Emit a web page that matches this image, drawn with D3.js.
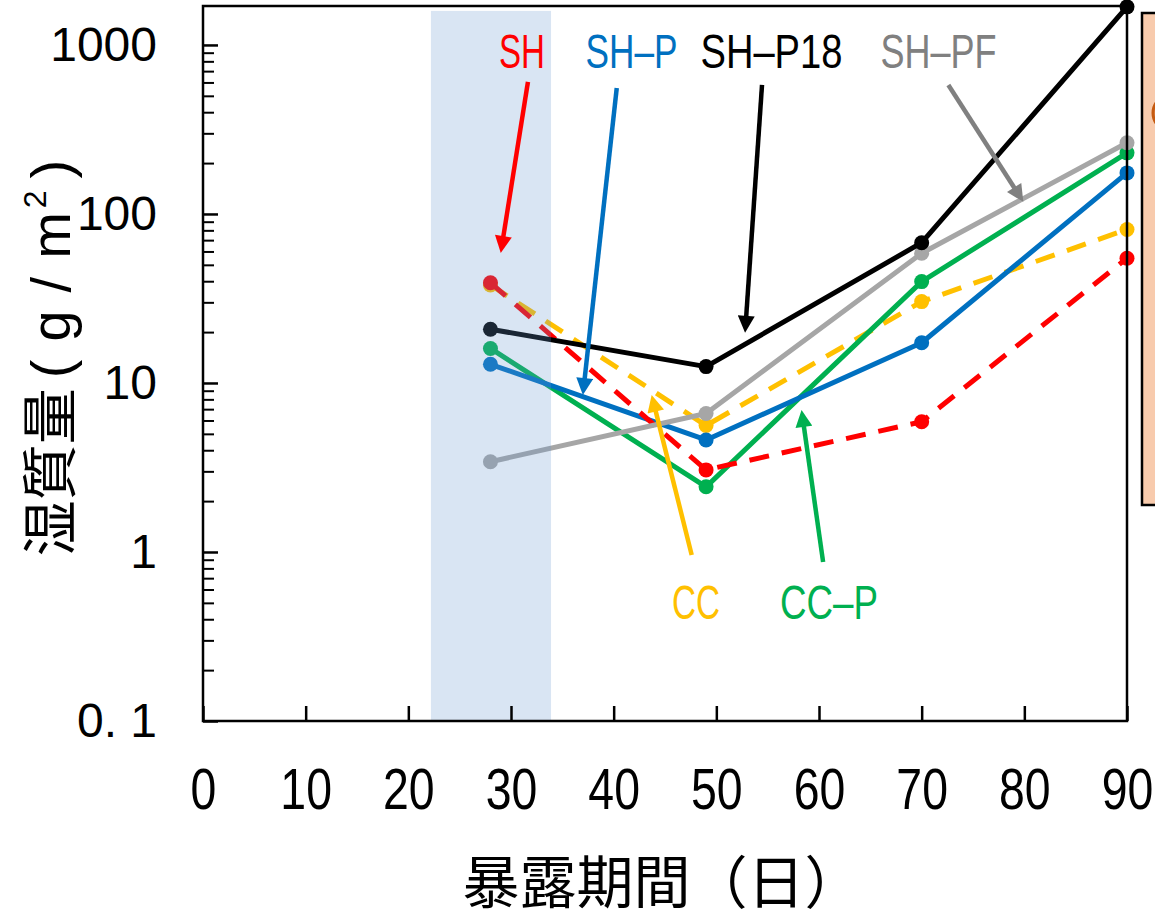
<!DOCTYPE html>
<html>
<head>
<meta charset="utf-8">
<script src="https://cdn.jsdelivr.net/npm/d3@7"></script>
<style>
  html, body { margin: 0; padding: 0; background: #fff; }
  svg { display: block; }
</style>
</head>
<body>
<svg id="chart" width="1155" height="918"></svg>
<script>
// Exposure time (days) at which the wet mass was measured
const days = [28, 49, 70, 90];

// Wet mass per specimen type (g/m2)
const seriesNames = ["CC", "CC-P", "SH-P", "SH", "SH-PF", "SH-P18"];
const ccValues    = [38.0, 5.6, 30.3, 81];
const ccpValues   = [16.0, 2.43, 39.8, 230];
const shpValues   = [12.9, 4.6, 17.3, 175];
const shValues    = [39.2, 3.06, 5.9, 54.7];
const shpfValues  = [3.42, 6.6, 58.5, 264];
const shp18Values = [20.8, 12.5, 67.6, 1680];

// Axis ticks
const xTickValues = [0, 10, 20, 30, 40, 50, 60, 70, 80, 90];
const yTickValues = [0.1, 1, 10, 100, 1000];
const yTickLabels = ["0. 1", "1", "10", "100", "1000"];

// Highlighted exposure window (days)
const bandDays = [22.2, 33.9];

// Annotation labels: name, label position (day, g/m2), arrow tail and tip (day, g/m2)
const labelNames = ["SH", "SH-P", "SH-P18", "SH-PF", "CC", "CC-P"];
const labelAt = [[31.07, 730], [41.74, 730], [55.37, 730], [71.64, 730], [48.02, 0.401], [60.97, 0.401]];
const arrowTail = [[31.65, 604], [40.3, 557], [54.45, 580], [72.6, 580], [47.6, 0.96], [60.4, 0.873]];
const arrowTip  = [[29.0, 58.8], [37.0, 8.49], [52.8, 19.8], [79.9, 118], [43.7, 8.49], [58.3, 6.92]];

const seriesValues = {
  "CC": ccValues, "CC-P": ccpValues, "SH-P": shpValues,
  "SH": shValues, "SH-PF": shpfValues, "SH-P18": shp18Values
};

const style = {
  "CC":     { color: "#FFC000", dash: "20,13", text: "#FFC000", arrow: "#FFC000" },
  "CC-P":   { color: "#00B050", dash: null,    text: "#00B050", arrow: "#00B050" },
  "SH-P":   { color: "#0070C0", dash: null,    text: "#0070C0", arrow: "#0070C0" },
  "SH":     { color: "#FF0000", dash: "20,13", text: "#FF0000", arrow: "#FF0000" },
  "SH-PF":  { color: "#A6A6A6", dash: null,    text: "#808080", arrow: "#808080" },
  "SH-P18": { color: "#000000", dash: null,    text: "#000000", arrow: "#000000" }
};
const labelWidths = { "SH": 46, "SH-P": 92, "SH-P18": 142, "SH-PF": 116, "CC": 48, "CC-P": 98 };

const svg = d3.select("#chart");
const plotLeft = 203, plotRight = 1127, plotTop = 6, plotBottom = 721;

const x = d3.scaleLinear().domain([0, 90]).range([plotLeft, plotRight]);
const y = d3.scaleLog().domain([0.1, 1700]).range([plotBottom, plotTop]);

// Side panel edge
svg.append("rect")
  .attr("x", 1142).attr("y", 13).attr("width", 40).attr("height", 492)
  .attr("fill", "#F8CBAD").attr("stroke", "#000").attr("stroke-width", 2.5);
svg.append("circle")
  .attr("cx", 1171).attr("cy", 113).attr("r", 18)
  .attr("fill", "#E9935A").attr("stroke", "#C55A11").attr("stroke-width", 3);

// Series lines and markers
const line = d3.line().x((d, i) => x(days[i])).y(d => y(d));
const plot = svg.append("g");
seriesNames.forEach(name => {
  const vals = seriesValues[name];
  const s = style[name];
  plot.append("path")
    .datum(vals)
    .attr("d", line)
    .attr("fill", "none")
    .attr("stroke", s.color)
    .attr("stroke-width", 5)
    .attr("stroke-linejoin", "round")
    .attr("stroke-dasharray", s.dash);
  plot.selectAll(null)
    .data(vals)
    .join("circle")
    .attr("cx", (d, i) => x(days[i]))
    .attr("cy", d => y(d))
    .attr("r", 7.5)
    .attr("fill", s.color);
});

// Translucent band over the early exposure window
svg.append("rect")
  .attr("x", x(bandDays[0]))
  .attr("y", y(1590))
  .attr("width", x(bandDays[1]) - x(bandDays[0]))
  .attr("height", plotBottom - y(1590))
  .attr("fill", "#6996CE")
  .attr("opacity", 0.25);

// Y axis: major and minor ticks pointing inward
const minorTicks = [];
for (let e = -1; e <= 3; e++) {
  for (let m = 2; m <= 9; m++) {
    const v = m * Math.pow(10, e);
    if (v < 1700) minorTicks.push(v);
  }
}
const yMajor = svg.append("g")
  .attr("transform", `translate(${plotLeft},0)`)
  .call(d3.axisLeft(y).tickValues(yTickValues).tickSize(-15).tickSizeOuter(0)
    .tickPadding(46).tickFormat((d, i) => yTickLabels[i]));
yMajor.select(".domain").remove();
yMajor.selectAll("line").attr("stroke", "#000").attr("stroke-width", 2.5);
yMajor.selectAll("text")
  .attr("font-family", "Liberation Sans, Arial, sans-serif")
  .attr("font-size", 48).attr("fill", "#000");

const yMinor = svg.append("g")
  .attr("transform", `translate(${plotLeft},0)`)
  .call(d3.axisLeft(y).tickValues(minorTicks).tickSize(-11).tickSizeOuter(0).tickFormat(""));
yMinor.select(".domain").remove();
yMinor.selectAll("line").attr("stroke", "#000").attr("stroke-width", 2);

// X axis
const xAxis = svg.append("g")
  .attr("transform", `translate(0,${plotBottom})`)
  .call(d3.axisBottom(x).tickValues(xTickValues).tickSize(-15).tickSizeOuter(0).tickPadding(47));
xAxis.select(".domain").remove();
xAxis.selectAll("line").attr("stroke", "#000").attr("stroke-width", 2.5);
xAxis.selectAll("text")
  .attr("font-family", "Liberation Sans, Arial, sans-serif")
  .attr("font-size", 58).attr("fill", "#000")
  .attr("transform", "scale(0.8,1)");

// Plot frame
svg.append("rect")
  .attr("x", plotLeft).attr("y", plotTop)
  .attr("width", plotRight - plotLeft).attr("height", plotBottom - plotTop)
  .attr("fill", "none").attr("stroke", "#000").attr("stroke-width", 2.5);

// Annotation arrows
const defs = svg.append("defs");
labelNames.forEach((name, i) => {
  const col = style[name].arrow;
  const id = "head" + i;
  defs.append("marker")
    .attr("id", id)
    .attr("viewBox", "0 0 10 10")
    .attr("refX", 10).attr("refY", 5)
    .attr("markerWidth", 19).attr("markerHeight", 17)
    .attr("markerUnits", "userSpaceOnUse")
    .attr("orient", "auto")
    .append("path").attr("d", "M0,0 L10,5 L0,10 Z").attr("fill", col);
  const x1 = x(arrowTail[i][0]), y1 = y(arrowTail[i][1]);
  const x2 = x(arrowTip[i][0]),  y2 = y(arrowTip[i][1]);
  const len = Math.hypot(x2 - x1, y2 - y1);
  const cut = 12;
  const xc = x2 - (x2 - x1) / len * cut, yc = y2 - (y2 - y1) / len * cut;
  // the shaft stops under the head, the marker sits on the real tip
  svg.append("line")
    .attr("x1", x1).attr("y1", y1)
    .attr("x2", xc).attr("y2", yc)
    .attr("stroke", col).attr("stroke-width", 4.5);
  svg.append("path")
    .attr("d", `M${xc},${yc}L${x2},${y2}`)
    .attr("stroke", col).attr("stroke-width", 0.01).attr("fill", "none")
    .attr("marker-end", `url(#${id})`);
  svg.append("text")
    .attr("x", x(labelAt[i][0])).attr("y", y(labelAt[i][1]))
    .attr("text-anchor", "middle")
    .attr("font-family", "Liberation Sans, Arial, sans-serif")
    .attr("font-size", 48)
    .attr("textLength", labelWidths[name])
    .attr("lengthAdjust", "spacingAndGlyphs")
    .attr("fill", style[name].text)
    .text(name.replace("-", "–"));
});

// Axis titles
const yTitle = svg.append("text")
  .attr("transform", "translate(70,358) rotate(-90)")
  .attr("text-anchor", "middle")
  .attr("fill", "#000");
yTitle.append("tspan")
  .attr("font-family", "Noto Sans CJK JP, sans-serif").attr("font-size", 56)
  .text("湿質量");
yTitle.append("tspan")
  .attr("font-family", "Liberation Sans, Arial, sans-serif").attr("font-size", 56)
  .attr("letter-spacing", 18)
  .attr("dx", 10)
  .text("(g/m");
yTitle.append("tspan")
  .attr("font-family", "Liberation Sans, Arial, sans-serif").attr("font-size", 32)
  .attr("dx", -14)
  .attr("dy", -24)
  .text("2");
yTitle.append("tspan")
  .attr("font-family", "Liberation Sans, Arial, sans-serif").attr("font-size", 56)
  .attr("dx", 12)
  .attr("dy", 24)
  .text(")");

svg.append("text")
  .attr("x", 662).attr("y", 903)
  .attr("text-anchor", "middle")
  .attr("font-family", "Noto Sans CJK JP, sans-serif")
  .attr("font-size", 57)
  .attr("fill", "#000")
  .text("暴露期間（日）");
</script>
</body>
</html>
